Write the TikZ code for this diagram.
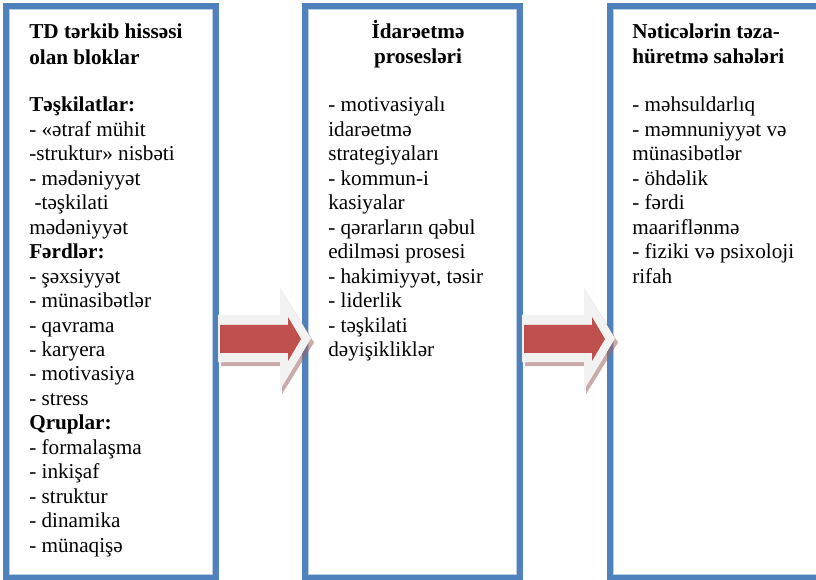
\documentclass[tikz,border=0pt]{standalone}
\usepackage{fontspec}
\setmainfont{Liberation Serif}
\definecolor{boxblue}{RGB}{79,129,189}
\definecolor{arrowred}{RGB}{192,80,77}
\definecolor{arrowgray}{RGB}{242,242,242}
\definecolor{shadowbrown}{RGB}{160,100,100}

\begin{document}
\begin{tikzpicture}[x=0.75pt,y=-0.75pt,
  panel/.style={draw=boxblue,line width=4.2pt},
  panelrim/.style={draw=boxblue!40,line width=0.6pt},
  bodytext/.style={anchor=base west,inner sep=0pt,font=\fontsize{15.9}{18.3}\selectfont},
  headtext/.style={inner sep=0pt,font=\fontsize{15.9}{18.3}\selectfont\bfseries},
  arrowshadow/.style={fill=shadowbrown,opacity=0.55},
  arrowback/.style={fill=arrowgray},
  arrowfront/.style={fill=arrowred}]

\useasboundingbox (0,0) rectangle (816,580);
\clip (0,0) rectangle (816,580);

% three panels
\draw[panel] (6,6) rectangle (216,578);
\draw[panelrim] (9.6,9.6) rectangle (212.4,574.4);
\draw[panel] (305,6) rectangle (520,578);
\draw[panelrim] (308.6,9.6) rectangle (516.4,574.4);
\draw[panel] (610,6) rectangle (830,578);
\draw[panelrim] (613.6,9.6) rectangle (826,574.4);

% block arrows between the panels
\foreach \dx/\nm in {0/one,304/two}{
  \begin{scope}[xshift=\dx*0.75pt]
    \fill[arrowshadow] (221,319) -- (282,319) -- (282,291) -- (314,342.5)
      -- (282,394) -- (282,366) -- (221,366) -- cycle;
    \fill[arrowback] (218,315) -- (280,315) -- (280,287) -- (311,338.5)
      -- (280,390) -- (280,362) -- (218,362) -- cycle;
    \fill[arrowfront] (220,325) -- (288,325) -- (288,317) -- (301,339)
      -- (288,361) -- (288,353) -- (220,353) -- cycle;
    \coordinate (arrow-\nm) at (260,339);
  \end{scope}
}

% panel titles
\node[headtext,anchor=base west] (h1a) at (29,39) {TD tərkib hissəsi};
\node[headtext,anchor=base west] (h1b) at (29,64.5) {olan bloklar};
\node[headtext,anchor=base] (h2a) at (418,38.5) {İdarəetmə};
\node[headtext,anchor=base] (h2b) at (418,63.5) {prosesləri};
\node[headtext,anchor=base west] (h3a) at (632,38.5) {Nəticələrin təza-};
\node[headtext,anchor=base west] (h3b) at (632,63.5) {hüretmə sahələri};

% panel contents
\foreach \txt [count=\i from 0] in {
  {\textbf{Təşkilatlar:}}, {- «ətraf mühit}, {-struktur» nisbəti},
  {- mədəniyyət}, {\hspace{4pt}-təşkilati}, {mədəniyyət},
  {\textbf{Fərdlər:}}, {- şəxsiyyət}, {- münasibətlər}, {- qavrama},
  {- karyera}, {- motivasiya}, {- stress}, {\textbf{Qruplar:}},
  {- formalaşma}, {- inkişaf}, {- struktur}, {- dinamika}, {- münaqişə}}
  \node[bodytext] (a\i) at (29,{112+24.45*\i}) {\txt};

\foreach \txt [count=\i from 0] in {
  {- motivasiyalı}, {idarəetmə}, {strategiyaları}, {- kommun-i},
  {kasiyalar}, {- qərarların qəbul}, {edilməsi prosesi},
  {- hakimiyyət, təsir}, {- liderlik}, {- təşkilati}, {dəyişikliklər}}
  \node[bodytext] (b\i) at (328,{112+24.45*\i}) {\txt};

\foreach \txt [count=\i from 0] in {
  {- məhsuldarlıq}, {- məmnuniyyət və}, {münasibətlər}, {- öhdəlik},
  {- fərdi}, {maariflənmə}, {- fiziki və psixoloji}, {rifah}}
  \node[bodytext] (c\i) at (632,{112+24.45*\i}) {\txt};

\end{tikzpicture}
\end{document}
